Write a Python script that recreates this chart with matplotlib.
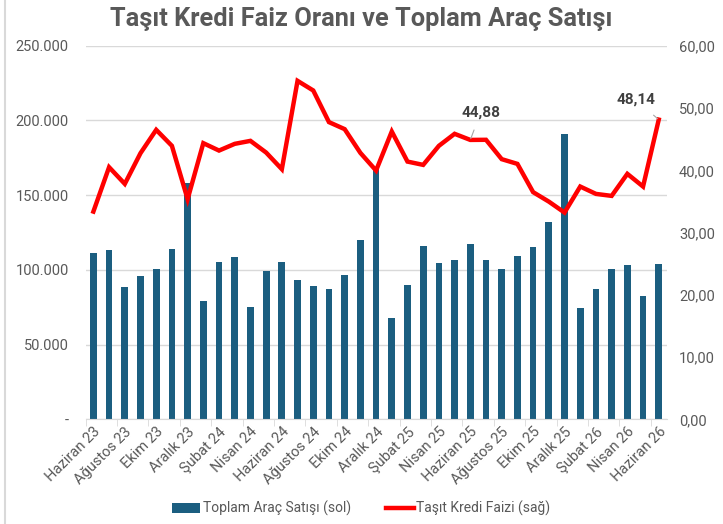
import matplotlib
matplotlib.use("Agg")
import matplotlib.pyplot as plt
import numpy as np
from matplotlib.ticker import FuncFormatter
from matplotlib.lines import Line2D
from matplotlib.patches import Patch

months = ["Haziran 23", "Temmuz 23", "Ağustos 23", "Eylül 23", "Ekim 23", "Kasım 23",
          "Aralık 23", "Ocak 24", "Şubat 24", "Mart 24", "Nisan 24", "Mayıs 24",
          "Haziran 24", "Temmuz 24", "Ağustos 24", "Eylül 24", "Ekim 24", "Kasım 24",
          "Aralık 24", "Ocak 25", "Şubat 25", "Mart 25", "Nisan 25", "Mayıs 25",
          "Haziran 25", "Temmuz 25", "Ağustos 25", "Eylül 25", "Ekim 25", "Kasım 25",
          "Aralık 25", "Ocak 26", "Şubat 26", "Mart 26", "Nisan 26", "Mayıs 26",
          "Haziran 26"]

sales = [111400, 113000, 88700, 96100, 100500, 114300, 158000, 79100, 105200, 108800,
         74900, 99400, 105600, 93400, 89400, 86900, 96300, 120100, 168000, 68100,
         90100, 115800, 104300, 106800, 117600, 106800, 100500, 109200, 115000, 131900,
         190800, 74700, 87400, 100700, 103400, 82700, 104100]

rate = [33.37, 40.50, 37.82, 42.75, 46.50, 43.93, 35.36, 44.36, 43.17, 44.25,
        44.73, 42.85, 40.18, 54.37, 52.82, 47.74, 46.61, 42.8, 39.96, 46.23,
        41.40, 40.87, 43.93, 45.86, 44.88, 44.9, 41.79, 41.03, 36.49, 34.97,
        33.21, 37.39, 36.21, 35.89, 39.43, 37.39, 48.14]

title = "Taşıt Kredi Faiz Oranı ve Toplam Araç Satışı"
bar_label = "Toplam Araç Satışı (sol)"
line_label = "Taşıt Kredi Faizi (sağ)"

bar_color = "#1B5E80"
line_color = "#FF0000"
text_color = "#595959"
grid_color = "#D9D9D9"

plt.rcParams['font.family'] = ['Roboto', 'DejaVu Sans']

fig = plt.figure(figsize=(7.23, 5.24), dpi=100)
ax = fig.add_axes([0.1183, 0.1998, 0.922 - 0.1183, 0.9126 - 0.1998])
ax2 = ax.twinx()

x = np.arange(len(months))
ax.bar(x, sales, width=0.43, color=bar_color, zorder=2)
ax.set_xlim(-0.5, len(months) - 0.5)
ax.set_ylim(0, 250000)
ax.set_yticks(np.arange(0, 250001, 50000))

def left_fmt(v, p):
    if v == 0:
        return "-"
    return f"{int(v):,}".replace(",", ".")
ax.yaxis.set_major_formatter(FuncFormatter(left_fmt))
ax.grid(axis='y', color=grid_color, linewidth=1, zorder=0)
ax.set_axisbelow(True)

ax2.plot(x, rate, color=line_color, linewidth=3.2, zorder=3, solid_joinstyle='miter')
ax2.set_ylim(0, 60)
ax2.set_yticks(np.arange(0, 61, 10))
ax2.yaxis.set_major_formatter(FuncFormatter(lambda v, p: f"{v:.2f}".replace(".", ",")))

for a in (ax, ax2):
    for s in a.spines.values():
        s.set_visible(False)
    a.tick_params(axis='y', length=0, labelsize=10.5, labelcolor=text_color)
ax.tick_params(axis='y', pad=12)
ax2.tick_params(axis='y', pad=9)
ax.spines['bottom'].set_visible(True)
ax.spines['bottom'].set_color(grid_color)

# x ticks: labels on every second month, tick marks at boundaries
ax.set_xticks(x[::2])
ax.set_xticklabels(months[::2], rotation=45, ha='right', rotation_mode='anchor',
                   fontsize=10.5, color=text_color)
ax.tick_params(axis='x', which='major', length=0, pad=4)
ax.set_xticks(np.arange(-0.5, len(months), 2), minor=True)
ax.tick_params(axis='x', which='minor', length=5, color=grid_color)

# annotations
ax2.annotate("44,88", xy=(24, rate[24]), xytext=(24.66, 49.3),
             fontsize=11, fontweight='bold', color="#404040", ha='center', va='center',
             arrowprops=dict(arrowstyle='-', color='#A6A6A6', lw=0.8, shrinkA=6, shrinkB=1))
ax2.annotate("48,14", xy=(36, rate[36]), xytext=(34.54, 51.3),
             fontsize=11, fontweight='bold', color="#404040", ha='center', va='center',
             arrowprops=dict(arrowstyle='-', color='#A6A6A6', lw=0.8, shrinkA=6, shrinkB=1))

fig.text(0.5, 0.963, title, ha='center', va='center', fontsize=18.3,
         fontweight='bold', color=text_color)

handles = [Patch(facecolor=bar_color, edgecolor='none', label=bar_label),
           Line2D([0], [0], color=line_color, linewidth=3.2, label=line_label)]
fig.legend(handles=handles, loc='center', bbox_to_anchor=(0.5, 0.03), ncol=2,
           frameon=False, fontsize=10, labelcolor=text_color, handlelength=2.0,
           handletextpad=0.2, columnspacing=2.5)

fig.add_artist(Line2D([0.007, 0.007], [0, 1], transform=fig.transFigure,
                      color="#D9D9D9", linewidth=1.5))

fig.savefig("out.png", dpi=100)
